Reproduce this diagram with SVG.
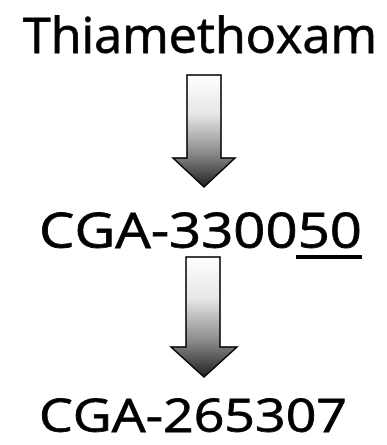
<svg xmlns="http://www.w3.org/2000/svg" width="387" height="445" viewBox="0 0 387 445">
<defs>
<linearGradient id="g" x1="0" y1="0" x2="0" y2="1">
<stop offset="0" stop-color="#ffffff"/>
<stop offset="0.35" stop-color="#e6e6e6"/>
<stop offset="0.7" stop-color="#8a8a8a"/>
<stop offset="1" stop-color="#222222"/>
</linearGradient>
<style>
.t{font-family:"Comic Sans MS","Open Sans","DejaVu Sans",sans-serif;font-size:50px;fill:#000;stroke:#000;stroke-width:0.8}
.a{fill:url(#g);stroke:#000;stroke-width:1.5;stroke-linejoin:miter}
</style>
</defs>
<rect width="387" height="445" fill="#fff"/>
<g id="n1"><text class="t" x="23" y="53" textLength="354" lengthAdjust="spacingAndGlyphs">Thiamethoxam</text></g>
<g id="n2"><text class="t" x="39" y="248" textLength="323" lengthAdjust="spacingAndGlyphs">CGA-330050</text>
<rect x="296" y="255" width="66" height="4" fill="#000"/></g>
<g id="n3"><text class="t" x="39" y="432" style="font-size:46px" textLength="308" lengthAdjust="spacingAndGlyphs">CGA-265307</text></g>
<g id="connectors">
<path class="a" d="M187,75 H221 V158 H235 L204,187 L173,158 H187 Z"/>
<path class="a" d="M186,257 H220 V347 H237 L204,377 L171,347 H186 Z"/>
</g>
</svg>
